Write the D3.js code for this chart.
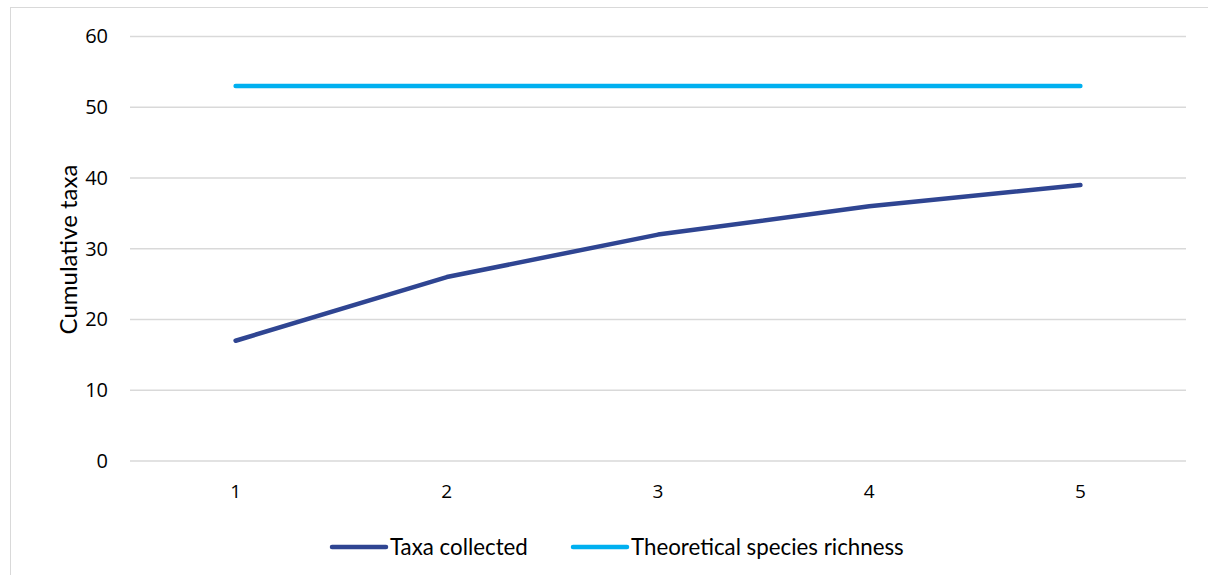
<!DOCTYPE html>
<html>
<head>
<meta charset="utf-8">
<script src="https://cdn.jsdelivr.net/npm/d3@7"></script>
<style>
  html, body { margin: 0; padding: 0; background: #fff; }
  svg { display: block; }
</style>
</head>
<body>
<svg id="chart" width="1208" height="575"></svg>
<script>
const categories = ["1", "2", "3", "4", "5"];
const taxaCollected = [17, 26, 32, 36, 39];
const theoreticalRichness = [53, 53, 53, 53, 53];
const yTicks = [0, 10, 20, 30, 40, 50, 60];
const seriesNames = ["Taxa collected", "Theoretical species richness"];
const seriesColors = ["#2F4592", "#00B0F0"];

const svg = d3.select("#chart");
const W = 1208, H = 575;
const plot = { left: 130, right: 1186, top: 36.5, bottom: 461 };

// outer border
svg.append("rect")
  .attr("x", 10.5).attr("y", 7.5)
  .attr("width", W + 10).attr("height", H + 10)
  .attr("fill", "none").attr("stroke", "#D9D9D9").attr("stroke-width", 1);

const x = d3.scaleBand().domain(categories).range([plot.left, plot.right]);
const y = d3.scaleLinear().domain([0, 60]).range([plot.bottom, plot.top]);

const font = "'Open Sans', sans-serif";

// gridlines
svg.append("g").selectAll("line").data(yTicks).join("line")
  .attr("x1", plot.left).attr("x2", plot.right)
  .attr("y1", d => y(d)).attr("y2", d => y(d))
  .attr("stroke", "#D9D9D9").attr("stroke-width", 1.5);

// y axis
const yAxis = svg.append("g")
  .attr("transform", `translate(${plot.left},0)`)
  .call(d3.axisLeft(y).tickValues(yTicks).tickSize(0).tickPadding(22));
yAxis.select(".domain").remove();
yAxis.selectAll("text")
  .attr("font-family", font).attr("font-size", 20).attr("fill", "#000");

// x axis
const xAxis = svg.append("g")
  .attr("transform", `translate(0,${plot.bottom})`)
  .call(d3.axisBottom(x).tickSize(0).tickPadding(24));
xAxis.select(".domain").remove();
xAxis.selectAll("text")
  .attr("font-family", font).attr("font-size", 19).attr("fill", "#000");

// y title
svg.append("text")
  .attr("transform", `translate(77,249.5) rotate(-90)`)
  .attr("text-anchor", "middle")
  .attr("font-family", "Lato, sans-serif").attr("font-size", 24)
  .attr("fill", "#000")
  .text("Cumulative taxa");

const cx = d => x(d) + x.bandwidth() / 2;
const line = d3.line()
  .x((d, i) => cx(categories[i]))
  .y(d => y(d));

[taxaCollected, theoreticalRichness].forEach((s, k) => {
  svg.append("path")
    .datum(s)
    .attr("d", line)
    .attr("fill", "none")
    .attr("stroke", seriesColors[k])
    .attr("stroke-width", 4.5)
    .attr("stroke-linecap", "round")
    .attr("stroke-linejoin", "round");
});

// legend
const legendY = 547;
const legendItems = [
  { x1: 332, x2: 386, tx: 390 },
  { x1: 573, x2: 627, tx: 631 }
];
legendItems.forEach((it, k) => {
  svg.append("line")
    .attr("x1", it.x1).attr("x2", it.x2)
    .attr("y1", legendY).attr("y2", legendY)
    .attr("stroke", seriesColors[k]).attr("stroke-width", 4.5)
    .attr("stroke-linecap", "round");
  svg.append("text")
    .attr("x", it.tx).attr("y", legendY)
    .attr("dy", "0.35em")
    .attr("font-family", "Lato, sans-serif").attr("font-size", 22.3)
    .attr("fill", "#000")
    .text(seriesNames[k]);
});
</script>
</body>
</html>
